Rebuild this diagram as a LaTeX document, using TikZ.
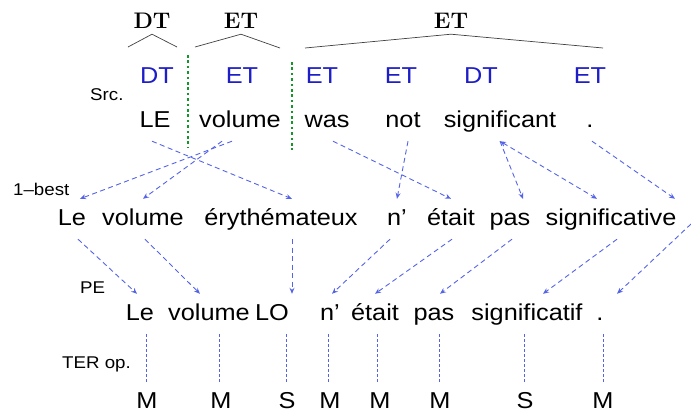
\documentclass[tikz,border=0pt]{standalone}
\usepackage{fontspec}
\newfontfamily\arialf[FakeStretch=1.1,Ligatures=TeX]{Liberation Sans}
\usetikzlibrary{arrows.meta}
\definecolor{tagblue}{RGB}{30,30,200}
\definecolor{linkblue}{RGB}{85,100,230}
\definecolor{sepgreen}{RGB}{20,150,40}
\begin{document}
\begin{tikzpicture}[x=1pt,y=-1pt,
  word/.style={font={\arialf\fontsize{23}{27}\selectfont}, text height=17pt, text depth=5pt, inner xsep=0pt, inner ysep=9pt, anchor=base},
  tag/.style={word, text=tagblue},
  lab/.style={font={\arialf\fontsize{17}{20}\selectfont}, anchor=base west, inner sep=0pt},
  toplab/.style={font={\fontsize{22.5}{26}\selectfont\bfseries}, anchor=base, inner xsep=0pt, inner ysep=6pt},
  link/.style={draw=linkblue, line width=0.9pt, dash pattern=on 5pt off 3.5pt, -{Stealth[open,length=6pt,width=5pt]}},
  ter/.style={draw=linkblue, line width=0.8pt, dash pattern=on 3pt off 2pt},
  tree/.style={draw=black!75, line width=0.7pt},
  sepline/.style={draw=sepgreen, line width=2.6pt, dash pattern=on 2.6pt off 2.8pt}]
\useasboundingbox (0,0) rectangle (691,413);

% top constituent labels
\node[toplab] (T1) at (152,28) {DT};
\node[toplab] (T2) at (241,28) {ET};
\node[toplab] (T3) at (451,28) {ET};
\coordinate (T1l) at (128,47); \coordinate (T1r) at (177,47);
\coordinate (T2l) at (195,47); \coordinate (T2r) at (280,48);
\coordinate (T3l) at (305,48); \coordinate (T3r) at (603,48);
\draw[tree] (T1l) -- (T1.south) -- (T1r);
\draw[tree] (T2l) -- (T2.south) -- (T2r);
\draw[tree] (T3l) -- (T3.south) -- (T3r);

% separators
\coordinate (g1a) at (188,55); \coordinate (g1b) at (188,147);
\coordinate (g2a) at (292,62); \coordinate (g2b) at (292,150);
\draw[sepline] (g1a) -- (g1b);
\draw[sepline] (g2a) -- (g2b);

% labels
\node[lab] (Lsrc) at (90,100) {Src.};
\node[lab] (Lbest) at (13,195) {1–best};
\node[lab] (Lpe) at (80,293) {PE};
\node[lab] (Lter) at (62,368) {TER op.};

% tags
\node[tag] (t1) at (157,83) {DT};
\node[tag] (t2) at (242,83) {ET};
\node[tag] (t3) at (322,83) {ET};
\node[tag] (t4) at (401,83) {ET};
\node[tag] (t5) at (481,83) {DT};
\node[tag] (t6) at (590,83) {ET};

% source words
\node[word] (s1) at (155,127) {LE};
\node[word] (s2) at (240,127) {volume};
\node[word] (s3) at (327,127) {was};
\node[word] (s4) at (403,127) {not};
\node[word] (s5) at (500,127) {significant};
\node[word] (s6) at (590,127) {.};

% 1-best words
\node[word] (b1) at (72,225) {Le};
\node[word] (b2) at (143,225) {volume};
\node[word] (b3) at (281,225) {érythémateux};
\node[word] (b4) at (397,225) {n’};
\node[word] (b5) at (451,225) {était};
\node[word] (b6) at (510,225) {pas};
\node[word] (b7) at (611,225) {significative};
\coordinate (rb) at (691,224);

% PE words
\node[word] (p1) at (140,320) {Le};
\node[word] (p2) at (209,320) {volume};
\node[word] (p3) at (272,320) {LO};
\node[word] (p4) at (330,320) {n’};
\node[word] (p5) at (375,320) {était};
\node[word] (p6) at (434,320) {pas};
\node[word] (p7) at (527,320) {significatif};
\node[word] (p8) at (600,320) {.};

% TER ops
\node[word] (o1) at (147,408) {M};
\node[word] (o2) at (221,408) {M};
\node[word] (o3) at (287,408) {S};
\node[word] (o4) at (330,408) {M};
\node[word] (o5) at (380,408) {M};
\node[word] (o6) at (440,408) {M};
\node[word] (o7) at (525,408) {S};
\node[word] (o8) at (603,408) {M};

% src -> 1-best
\draw[link] ([xshift=-3pt]s1.south) -- ([xshift=11pt]b3.north);
\draw[link] ([xshift=-8pt]s2.south) -- ([xshift=8pt]b1.north);
\draw[link] ([xshift=-18pt]s2.south) -- (b2.north);
\draw[link] ([xshift=6pt]s3.south) -- (b5.north);
\draw[link] ([xshift=5pt]s4.south) -- (b4.north);
\draw[link] (s5.south) -- ([xshift=13pt]b6.north);
\draw[link,{Stealth[open,length=6pt,width=5pt]}-{Stealth[open,length=6pt,width=5pt]}] (s5.south) -- ([xshift=-14pt]b7.north);
\draw[link] ([xshift=2pt]s6.south) -- ([xshift=64pt]b7.north);

% 1-best -> PE
\draw[link] ([xshift=6pt]b1.south) -- ([xshift=-3pt]p1.north);
\draw[link] ([xshift=2pt]b2.south) -- ([xshift=-9pt]p2.north);
\draw[link] ([xshift=11pt]b3.south) -- ([xshift=20pt]p3.north);
\draw[link] ([xshift=-7pt]b4.south) -- ([xshift=2pt]p4.north);
\draw[link] ([xshift=1pt]b5.south) -- (p5.north);
\draw[link] ([xshift=2pt]b6.south) -- ([xshift=6pt]p6.north);
\draw[link] ([xshift=6pt]b7.south) -- ([xshift=16pt]p7.north);
\draw[link] (rb) -- ([xshift=17pt]p8.north);

% PE -> TER ops
\foreach \i/\dx in {1/-1,2/-2,3/-1,4/-2,5/-3,6/-1,7/-1,8/0}{
  \draw[ter] ([xshift=\dx pt]o\i.north |- p\i.south) -- ([xshift=\dx pt]o\i.north);
}
\end{tikzpicture}
\end{document}
